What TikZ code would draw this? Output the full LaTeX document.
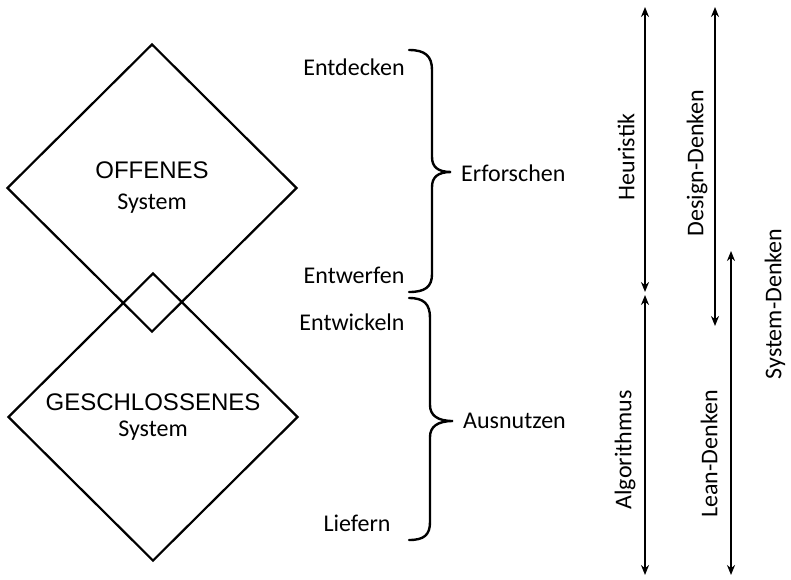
\documentclass[tikz,border=0pt]{standalone}
\usepackage{fontspec}
\setmainfont{Carlito}
\newfontfamily\arialf{Liberation Sans}
\usetikzlibrary{arrows.meta,shapes.geometric}
\begin{document}
\begin{tikzpicture}[x=1pt,y=-1pt,
  lbl/.style={font=\fontsize{24}{28}\selectfont, inner sep=0pt},
  rlbl/.style={lbl, rotate=90},
  sysbox/.style={draw, line width=2.2pt, shape=diamond, minimum width=290pt, minimum height=288pt, inner sep=0pt, align=center, font=\fontsize{24}{31}\selectfont},
  arr/.style={line width=1.8pt, {Stealth[length=10pt,width=8pt]}-{Stealth[length=10pt,width=8pt]}},
  brace/.style={line width=2.4pt, line cap=round}
]
\useasboundingbox (0,0) rectangle (791,579);
\fill[white] (0,0) rectangle (791,579);

% diamonds
\node[sysbox] (open) at (152,188) {{\arialf OFFENES}\\System};
\node[sysbox, font=\fontsize{24}{26}\selectfont] (closed) at (153,417) {{\arialf GESCHLOSSENES}\\System};

% phase labels
\node[lbl] (entdecken) at (354,67) {Entdecken};
\node[lbl] (entwerfen) at (354,275) {Entwerfen};
\node[lbl] (entwickeln) at (352,322) {Entwickeln};
\node[lbl] (liefern) at (357,523) {Liefern};
\node[lbl, anchor=west] (erforschen) at (461,173) {Erforschen};
\node[lbl, anchor=west] (ausnutzen) at (463,421) {Ausnutzen};

% braces
\draw[brace] (409,50) .. controls (425,50) and (432,56) .. (432,70) -- (432,157)
  .. controls (432,167) and (438,172) .. (451,172)
  .. controls (438,172) and (432,177) .. (432,187) -- (432,274)
  .. controls (432,287) and (425,292) .. (409,292);
\draw[brace] (409,298) .. controls (424,298) and (430,304) .. (430,318) -- (430,405)
  .. controls (430,415) and (437,421) .. (453,421)
  .. controls (437,421) and (430,427) .. (430,437) -- (430,522)
  .. controls (430,535) and (424,540) .. (409,540);

% arrows
\coordinate (h1) at (645,7);
\coordinate (h2) at (645,292);
\coordinate (a1) at (645,295);
\coordinate (a2) at (645,575);
\coordinate (d1) at (715,7);
\coordinate (d2) at (715,326);
\coordinate (l1) at (731,251);
\coordinate (l2) at (731,575);
\draw[arr] (h1) -- (h2);
\draw[arr] (a1) -- (a2);
\draw[arr] (d1) -- (d2);
\draw[arr] (l1) -- (l2);

% rotated labels
\node[rlbl] (heur) at (626,157) {Heuristik};
\node[rlbl] (design) at (697,163) {Design-Denken};
\node[rlbl] (algo) at (625,450) {Algorithmus};
\node[rlbl] (lean) at (709,454) {Lean-Denken};
\node[rlbl] (system) at (775,304) {System-Denken};
\end{tikzpicture}
\end{document}
